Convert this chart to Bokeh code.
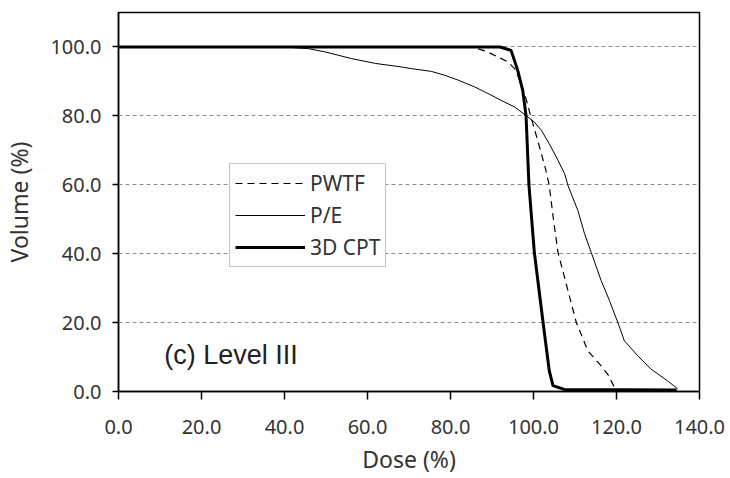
from bokeh.plotting import figure
from bokeh.models import Legend, LegendItem, Label, FixedTicker, PrintfTickFormatter, Range1d
from bokeh.embed import file_html
from bokeh.resources import INLINE

# ---- data ----
x_ticks = [0, 20, 40, 60, 80, 100, 120, 140]
y_ticks = [0, 20, 40, 60, 80, 100]

pwtf_dose = [0, 85.0, 88.5, 91.4, 93.8, 95.6, 97.0, 98.2, 99.3, 101.0, 102.8, 103.8,
             104.8, 105.9, 108.3, 110.3, 113.1, 115.9, 117.9, 119.3, 120.0]
pwtf_vol = [100, 100, 98.8, 97.1, 95.7, 93.5, 89.5, 85.0, 80.0, 72.9, 65.1, 59.8,
            50.0, 40.4, 29.3, 20.1, 11.8, 8.0, 5.0, 1.7, 0.3]

pe_dose = [0, 40.0, 42.2, 45.8, 50.0, 56.2, 62.0, 68.2, 70.6, 75.4, 78.6, 82.0, 85.8,
           89.0, 92.2, 95.4, 98.2, 100.2, 101.9, 103.8, 105.9, 107.5, 108.3, 110.7,
           112.3, 113.9, 116.3, 118.3, 120.3, 121.9, 125.1, 128.3, 132.3, 134.7]
pe_vol = [100, 100, 99.8, 99.5, 98.5, 96.6, 95.2, 94.2, 93.7, 92.9, 91.8, 90.3, 88.4,
          86.5, 84.5, 82.6, 80.1, 78.2, 75.8, 71.9, 67.1, 63.2, 59.8, 52.5,
          45.8, 40.4, 32.2, 26.4, 20.1, 14.7, 10.4, 6.5, 3.1, 0.8]

cpt_dose = [0, 92.0, 94.6, 96.2, 97.4, 98.2, 98.9, 100.2, 102.3, 103.8, 104.7, 107.4, 134.5]
cpt_vol = [100, 100, 99.0, 93.2, 87.4, 80.1, 60.0, 40.4, 20.1, 6.0, 1.7, 0.6, 0.4]

series_names = ["PWTF", "P/E", "3D CPT"]
panel_label = "(c) Level III"

# ---- figure ----
p = figure(width=730, height=478, x_range=Range1d(0, 140), y_range=Range1d(0, 110),
           output_backend="svg", toolbar_location=None,
           min_border_left=116, min_border_right=31, min_border_top=12, min_border_bottom=87)
p.background_fill_color = "white"
p.border_fill_color = "white"
p.outline_line_color = "black"
p.outline_line_width = 1.5

p.xgrid.visible = False
p.ygrid.ticker = FixedTicker(ticks=[20, 40, 60, 80, 100])
p.ygrid.grid_line_color = "#8c8c8c"
p.ygrid.grid_line_dash = "4 3"
p.ygrid.grid_line_width = 1

p.xaxis.ticker = FixedTicker(ticks=x_ticks)
p.yaxis.ticker = FixedTicker(ticks=y_ticks)
for ax in (p.xaxis, p.yaxis):
    ax.formatter = PrintfTickFormatter(format="%.1f")
    ax.axis_line_color = "black"
    ax.axis_line_width = 1.5
    ax.major_tick_line_color = "black"
    ax.major_tick_line_width = 1.5
    ax.major_tick_in = 0
    ax.minor_tick_line_color = None
    ax.major_label_text_font = "Noto Sans"
    ax.major_label_text_font_size = "20px"
    ax.major_label_text_color = "#333333"
    ax.axis_label_text_font = "Noto Sans"
    ax.axis_label_text_font_size = "23px"
    ax.axis_label_text_font_style = "normal"
    ax.axis_label_text_color = "#333333"
p.xaxis.major_tick_out = 8
p.yaxis.major_tick_out = 6
p.xaxis.major_label_standoff = 20
p.yaxis.major_label_standoff = 11
p.xaxis.axis_label = "Dose (%)"
p.yaxis.axis_label = "Volume (%)"
p.xaxis.axis_label_standoff = 6
p.yaxis.axis_label_standoff = 12

r_pe = p.line(pe_dose, pe_vol, line_color="black", line_width=1)
r_pwtf = p.line(pwtf_dose, pwtf_vol, line_color="black", line_width=1.2, line_dash="7 5")
r_cpt = p.line(cpt_dose, cpt_vol, line_color="black", line_width=3)

legend = Legend(items=[LegendItem(label=series_names[0], renderers=[r_pwtf]),
                       LegendItem(label=series_names[1], renderers=[r_pe]),
                       LegendItem(label=series_names[2], renderers=[r_cpt])],
                location=(111, 124))
legend.padding = 5
legend.spacing = 4
legend.label_height = 20
legend.glyph_height = 20
legend.glyph_width = 70
legend.label_standoff = 5
legend.label_text_font = "Noto Sans"
legend.label_text_font_size = "21px"
legend.label_text_color = "#333333"
legend.border_line_color = "#8a8a8a"
legend.border_line_width = 1
legend.background_fill_color = "white"
legend.background_fill_alpha = 1
legend.margin = 0
p.add_layout(legend)

p.add_layout(Label(x=11, y=10.7, text=panel_label, text_font="Liberation Sans",
                   text_font_size="27px", text_color="#222222", text_baseline="middle"))

open("out.html", "w").write(file_html(p, INLINE))
